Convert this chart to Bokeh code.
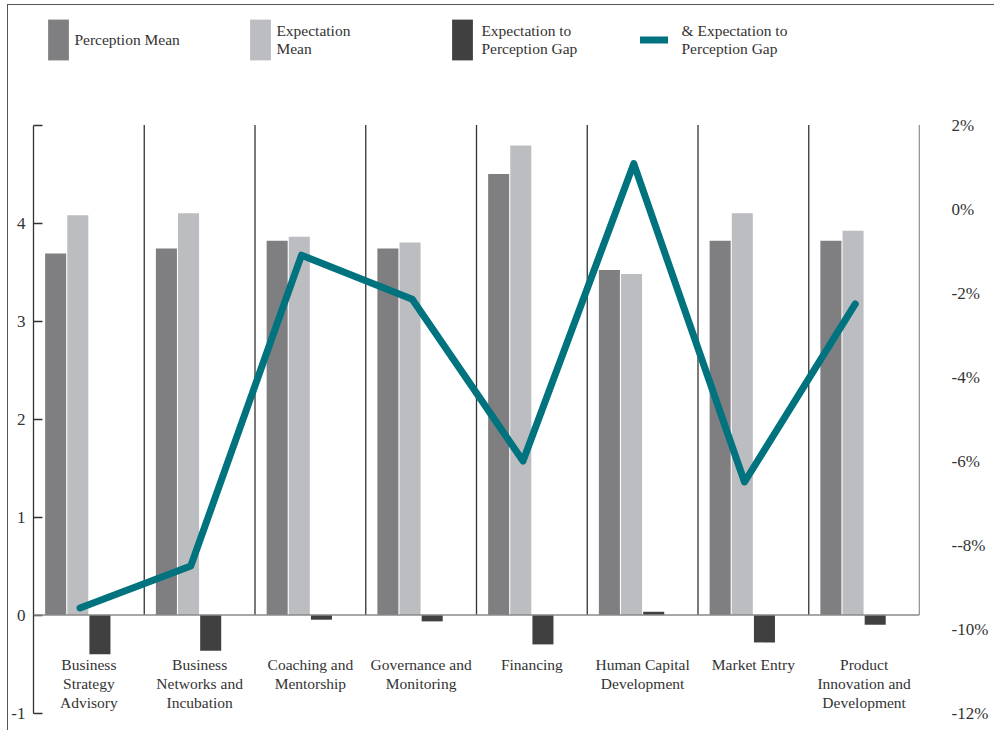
from bokeh.plotting import figure
from bokeh.models import (Range1d, LinearAxis, FixedTicker, Span, Legend, LegendItem,
                          ColumnDataSource)
from bokeh.core.properties import value
from bokeh.transform import dodge
from bokeh.embed import file_html
from bokeh.resources import INLINE

# ---------------- data ----------------
categories = ["Business Strategy Advisory", "Business Networks and Incubation",
              "Coaching and Mentorship", "Governance and Monitoring", "Financing",
              "Human Capital Development", "Market Entry", "Product Innovation and Development"]
category_labels = ["Business\nStrategy\nAdvisory", "Business\nNetworks and\nIncubation",
                   "Coaching and\nMentorship", "Governance and\nMonitoring", "Financing",
                   "Human Capital\nDevelopment", "Market Entry", "Product\nInnovation and\nDevelopment"]
perception_mean = [3.69, 3.74, 3.82, 3.74, 4.50, 3.52, 3.82, 3.82]
expectation_mean = [4.08, 4.10, 3.86, 3.80, 4.79, 3.48, 4.10, 3.92]
gap = [-0.40, -0.365, -0.048, -0.065, -0.30, 0.033, -0.28, -0.10]
gap_pct = [-9.5, -8.5, -1.1, -2.15, -6.0, 1.08, -6.5, -2.26]
left_ticks = [-1, 0, 1, 2, 3, 4, 5]
left_tick_labels = ["-1", "0", "1", "2", "3", "4", ""]
right_ticks = [2, 0, -2, -4, -6, -8, -10, -12]
right_tick_labels = ["2%", "0%", "-2%", "-4%", "-6%", "--8%", "-10%", "-12%"]

FONT = "Liberation Serif"
C_PER = "#7f7f82"
C_EXP = "#bcbdc0"
C_GAP = "#404040"
C_LINE = "#00737e"
TXT = "#333333"

# page geometry (canvas shifted by margin + border)
OX, OY = 8.5, 5.5
W, Hc = 996 - 9, 732 - 6
FRAME_L, FRAME_R = 32, 920          # page coords of plot frame (x)
Y_ZERO_M1 = 713                      # page y of value -1 / -12%
PX_PER_UNIT = 98.0
PX_PER_PCT = 42.0

n = len(categories)
idx = list(range(n))

above = Y_ZERO_M1 - OY
below = (OY + Hc) - Y_ZERO_M1
p = figure(width=W, height=Hc, output_backend="svg", toolbar_location=None,
           x_range=Range1d(-0.5, n - 0.5),
           y_range=Range1d(-1 - below / PX_PER_UNIT, -1 + above / PX_PER_UNIT),
           x_axis_location=None, y_axis_location="left",
           min_border_left=int(round(FRAME_L - OX)), min_border_right=int(round(OX + W - FRAME_R)),
           min_border_top=0, min_border_bottom=0)
p.margin = (4, 0, 0, 7)
p.styles = {"border-top": "1.5px solid #555555", "border-left": "1.5px solid #555555"}
p.outline_line_color = None
p.xgrid.visible = False
p.ygrid.visible = False
p.extra_y_ranges = {"pct": Range1d(-12 - below / PX_PER_PCT, -12 + above / PX_PER_PCT)}

src = ColumnDataSource(dict(x=idx, per=perception_mean, exp=expectation_mean, gap=gap,
                            pct=gap_pct, lab=category_labels))

r_per = p.vbar(x=dodge("x", -0.30), top="per", bottom=0, width=0.19, source=src,
               fill_color=C_PER, line_color=None)
r_exp = p.vbar(x=dodge("x", -0.10), top="exp", bottom=0, width=0.19, source=src,
               fill_color=C_EXP, line_color=None)
r_gap = p.vbar(x=dodge("x", 0.10), top="gap", bottom=0, width=0.19, source=src,
               fill_color=C_GAP, line_color=None)

# category separators
bounds = [i + 0.5 for i in idx]
p.segment(x0=bounds, x1=bounds, y0=[0] * n, y1=[5] * n, line_color="#333333", line_width=1.3)

p.add_layout(Span(location=0, dimension="width", line_color="#8a8a8a", line_width=1.6))

r_line = p.line(x=dodge("x", -0.08), y="pct", source=src, y_range_name="pct",
                line_color=C_LINE, line_width=7, line_cap="round", line_join="round")

p.text(x="x", y=-0.42, text="lab", source=src, text_align="center", text_baseline="top",
       text_font=value(FONT), text_font_size="15.5px", text_color=TXT, text_line_height=1.1)

# left axis
ya = p.yaxis[0]
ya.ticker = FixedTicker(ticks=left_ticks)
ya.major_label_overrides = {t: s for t, s in zip(left_ticks, left_tick_labels)}
ya.bounds = (-1, 5)
ya.major_tick_in = 9
ya.major_tick_out = 0
ya.minor_tick_line_color = None
ya.axis_line_color = "#333333"
ya.major_tick_line_color = "#333333"
ya.axis_line_width = 1.3
ya.major_tick_line_width = 1.3
ya.major_label_standoff = 8
ya.major_label_text_font = FONT
ya.major_label_text_font_size = "17px"
ya.major_label_text_color = TXT

# right axis
ra = LinearAxis(y_range_name="pct", ticker=FixedTicker(ticks=right_ticks))
ra.major_label_overrides = {t: s for t, s in zip(right_ticks, right_tick_labels)}
ra.axis_line_color = None
ra.major_tick_line_color = None
ra.minor_tick_line_color = None
ra.major_label_standoff = 26
ra.major_label_text_align = "right"
ra.major_label_text_font = FONT
ra.major_label_text_font_size = "17px"
ra.major_label_text_color = TXT
p.add_layout(ra, "right")


# legends (each placed individually, inside the frame's top band)
def add_legend(label, renderer, left_px, gw, gh, top_px, standoff):
    lg = Legend(items=[LegendItem(label=label, renderers=[renderer])],
                location=(left_px - FRAME_L, Y_ZERO_M1 + below - (top_px + gh)),
                glyph_width=gw, glyph_height=gh, label_standoff=standoff,
                padding=0, margin=0, spacing=0, border_line_color=None,
                background_fill_alpha=0, label_text_font=FONT,
                label_text_font_size="15.5px", label_text_color=TXT)
    p.add_layout(lg, "center")


add_legend("Perception Mean", r_per, 44.4, 26, 51, 14.9, 3)
add_legend("Expectation\nMean", r_exp, 246.4, 26, 51, 14.9, 3)
add_legend("Expectation to\nPerception Gap", r_gap, 448.4, 26, 51, 14.9, 6)
add_legend("& Expectation to\nPerception Gap", r_line, 638.5, 28, 51, 14.9, 14)

open("out.html", "w").write(file_html(p, INLINE))
